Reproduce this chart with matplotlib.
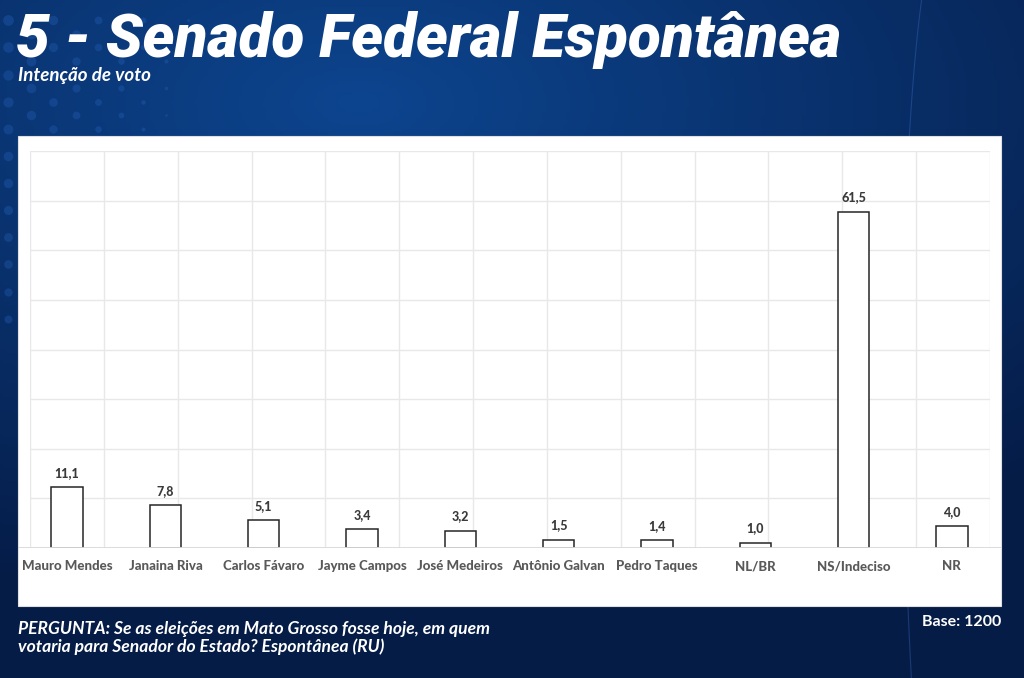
import matplotlib
matplotlib.use("Agg")
import matplotlib.pyplot as plt
from matplotlib.patches import Rectangle
import numpy as np

candidates = ['Mauro Mendes', 'Janaina Riva', 'Carlos Fávaro', 'Jayme Campos', 'José Medeiros',
              'Antônio Galvan', 'Pedro Taques', 'NL/BR', 'NS/Indeciso', 'NR']
votes = [11.1, 7.8, 5.1, 3.4, 3.2, 1.5, 1.4, 1.0, 61.5, 4.0]
value_labels = ['11,1', '7,8', '5,1', '3,4', '3,2', '1,5', '1,4', '1,0', '61,5', '4,0']

W, H = 1024, 678
fig = plt.figure(figsize=(W / 100, H / 100), dpi=100)

def fx(px):
    return px / W

def fy(py):
    return 1 - py / H

# background: dark blue gradient
bg = fig.add_axes([0, 0, 1, 1])
bg.set_axis_off()
yy, xx = np.mgrid[0:1:200j, 0:1:300j]
d = np.sqrt((xx - 0.35) ** 2 * 1.0 + (yy - 0.15) ** 2 * 1.6)
t = np.clip(d / 0.95, 0, 1)
c0 = np.array([0.05, 0.27, 0.56])
c1 = np.array([0.02, 0.11, 0.28])
img = c0[None, None, :] * (1 - t[..., None]) + c1[None, None, :] * t[..., None]
bg.imshow(img, extent=[0, 1, 0, 1], aspect='auto', origin='upper')
# dot pattern on the left
for col in range(9):
    for row in range(12):
        x = 0.008 + col * 0.022
        y = 0.97 - row * 0.04 - (col % 2) * 0.02
        size = max(0, 60 - col * 7 - row * 2.5)
        if size > 2:
            bg.scatter(x, y, s=size, color=(0.15, 0.38, 0.72), alpha=0.35, linewidths=0)
# thin light curve on the right
cy = np.linspace(0, 1, 100)
bg.plot(0.80 + 0.09 * (1 - cy) ** 1.5 - 0.35 * (cy - 1) ** 2 * 0 + 0.1 * cy, cy,
        color=(0.25, 0.45, 0.8), lw=0.8, alpha=0.35)
# white panel
bg.add_patch(Rectangle((fx(18), fy(606)), fx(1001) - fx(18), fy(136) - fy(606),
                       facecolor='white', edgecolor='#e0e0e0', lw=0.8, zorder=5))
bg.set_xlim(0, 1)
bg.set_ylim(0, 1)

# grid
grid_ax = fig.add_axes([fx(30), fy(548), fx(990) - fx(30), fy(151) - fy(548)])
grid_ax.set_facecolor('none')
grid_ax.set_xlim(0, 13)
grid_ax.set_ylim(0, 8)
for i in range(14):
    grid_ax.axvline(i, color='#e8e8e8', lw=1)
for j in range(1, 9):
    grid_ax.axhline(j, color='#e8e8e8', lw=1)
grid_ax.set_axis_off()

# bars
ax = fig.add_axes([fx(18), fy(548), fx(1001) - fx(18), fy(151) - fy(548)])
ax.set_facecolor('none')
x = np.arange(len(candidates))
ax.bar(x, votes, width=0.32, color='white', edgecolor='#262626', linewidth=1.1, zorder=3)
for xi, v, lab in zip(x, votes, value_labels):
    ax.annotate(lab, (xi, v), xytext=(0, 6), textcoords='offset points', ha='center',
                va='bottom', fontsize=9, fontweight='black', color='#3a3a3a', family='Lato')
ax.axhline(0, color='#d9d9d9', lw=1.3, zorder=4)
ax.set_xlim(-0.5, len(candidates) - 0.5)
ax.set_ylim(0, 72.6)
ax.set_xticks(x)
ax.set_xticklabels(candidates, fontsize=9.5, fontweight='black', color='#595959', family='Lato')
ax.tick_params(axis='x', length=0, pad=9)
ax.set_yticks([])
for s in ax.spines.values():
    s.set_visible(False)

# texts
fig.text(fx(16), fy(40), '5 - Senado Federal Espontânea', color='white', fontsize=43.5,
         fontweight='heavy', style='italic', family='Roboto', va='center', ha='left')
fig.text(fx(18), fy(76), 'Intenção de voto', color='white', fontsize=13.5,
         fontweight='bold', style='italic', family='Lato', va='center', ha='left')
fig.text(fx(18), fy(638), 'PERGUNTA: Se as eleições em Mato Grosso fosse hoje, em quem\n'
         'votaria para Senador do Estado? Espontânea (RU)', color='white', fontsize=12.6,
         fontweight='bold', style='italic', family='Lato', va='center', ha='left',
         linespacing=1.15)
fig.text(fx(1001), fy(622), 'Base: 1200', color='white', fontsize=11.5,
         fontweight='bold', family='Lato', va='center', ha='right')

fig.savefig('out.png', dpi=100)
